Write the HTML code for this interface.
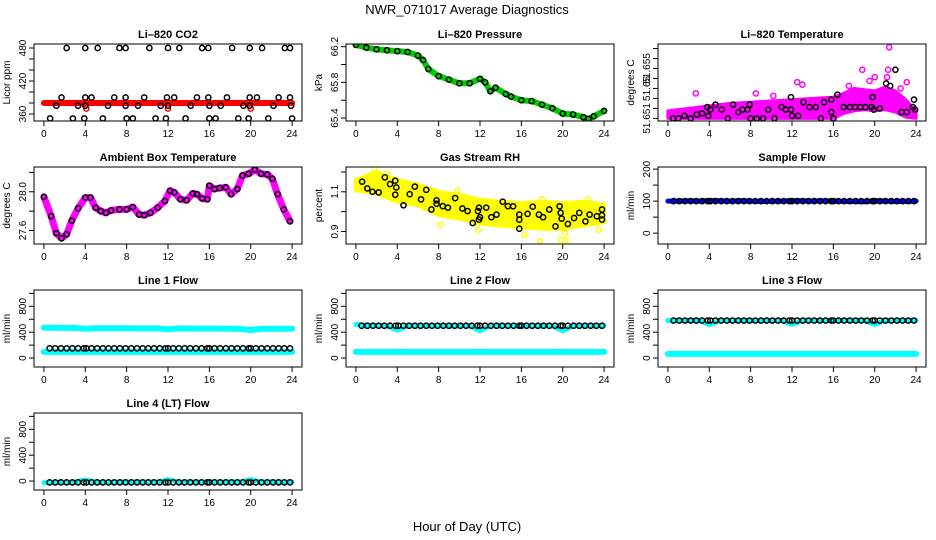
<!DOCTYPE html>
<html><head><meta charset="utf-8">
<style>
html,body{margin:0;padding:0;background:#fff;}
svg{display:block;font-family:"Liberation Sans",Arial,sans-serif;}
</style></head>
<body>
<svg id="chart" width="936" height="540" viewBox="0 0 936 540" xmlns="http://www.w3.org/2000/svg">
<text x="467" y="14" font-size="13" text-anchor="middle">NWR_071017  Average Diagnostics</text>
<text x="467" y="531" font-size="13" text-anchor="middle">Hour of Day (UTC)</text>
</svg>
<script>
// ---------- shared data ----------
const xTicks = [0,4,8,12,16,20,24];
const blkHours = [0.55,1.1,1.65,2.2,2.75,3.3,3.85,4.1,4.6,5.15,5.7,6.25,6.8,7.35,7.9,8.45,9.0,9.55,10.1,10.65,11.2,11.75,12.0,12.5,13.05,13.6,14.15,14.7,15.25,15.8,16.0,16.5,17.05,17.6,18.15,18.7,19.25,19.8,20.0,20.5,21.05,21.6,22.15,22.7,23.25,23.8];
const bandHours = [0,1,2,3,4,5,6,7,8,9,10,11,12,13,14,15,16,17,18,19,20,21,22,23,24];

// CO2
const co2RedValues = [380,380,380,380,380,380,380,380,380,380,380,380,380,380,380,380,380,380,380,380,380,380,380,380,380];
const co2RedOutHours = [4.1,12.0,20.0];
const co2RedOutValues = [370,370,370];
const co2BlackHours = [2.2,4.0,5.2,7.3,7.9,10.2,12.0,13.1,15.3,15.9,18.2,19.9,21.1,23.3,23.8,
 1.7,4.0,4.6,6.8,7.9,9.7,11.9,12.6,14.8,15.9,17.7,19.9,20.6,22.7,23.8,
 1.2,3.3,4.0,6.2,7.9,9.1,11.3,12.0,14.2,16.0,17.1,19.3,19.9,22.2,23.9,
 0.6,2.8,3.9,5.7,8.0,8.6,10.8,11.8,13.7,16.0,16.6,18.8,19.8,21.7,24.0];
const co2BlackValues = [480,480,480,480,480,480,480,480,480,480,480,480,480,480,480,
 390,390,390,390,390,390,390,390,390,390,390,390,390,390,390,
 375,375,375,375,375,375,375,375,375,375,375,375,375,375,375,
 352,352,352,352,352,352,352,352,352,352,352,352,352,352,352];

// Pressure
const presHours = [0,1,2,3,4,5,6,6.5,7,8,9,10,11,12,12.5,13,13.5,14.5,15,16,17,18,19,20,21,22,22.5,23,24];
const presValues = [66.22,66.19,66.17,66.16,66.15,66.14,66.1,66.05,65.95,65.87,65.83,65.79,65.79,65.84,65.8,65.7,65.74,65.67,65.64,65.6,65.59,65.55,65.51,65.45,65.44,65.41,65.39,65.42,65.48];

// Li-820 temperature
const ltHours = [0,2,4,6,8,10,12,14,16,17,18,19,20,21,22,23,24];
const ltUpper = [51.6516,51.6518,51.6520,51.6522,51.6523,51.6524,51.6525,51.6526,51.6527,51.6530,51.6534,51.6533,51.6532,51.6535,51.6532,51.6525,51.6516];
const ltLower = [51.6510,51.6510,51.6510,51.6510,51.6510,51.6510,51.6510,51.6510,51.6510,51.6514,51.6516,51.6517,51.6516,51.6517,51.6515,51.6511,51.6510];
const ltOutHours = [2.7,8.5,12.5,13.0,18.8,20.0,21.4,21.3,21.2,22.5,23.1,17.5,19.5,10.2];
const ltOutValues = [51.6530,51.6530,51.6539,51.6537,51.6549,51.6543,51.6567,51.6549,51.6543,51.6534,51.6539,51.6536,51.6540,51.6528];
const ltBlackHours = [0.5,1.0,1.6,2.2,2.8,3.3,3.8,3.9,4.1,4.6,5.2,5.8,6.3,6.8,7.2,7.7,7.9,8.0,8.6,9.2,9.7,10.3,11.0,11.4,11.9,11.9,12.0,12.6,13.1,13.7,14.3,14.8,15.1,15.8,15.8,16.0,16.4,17.0,17.6,18.1,18.6,19.1,19.7,19.8,19.9,20.5,21.1,21.5,22.0,22.6,23.1,23.7,23.9,23.8];
const ltBlackValues = [51.6510,51.6510,51.6512,51.6510,51.6513,51.6514,51.6519,51.6512,51.6517,51.6521,51.6517,51.6510,51.6521,51.6515,51.6517,51.6517,51.6521,51.6510,51.6510,51.6510,51.6517,51.6510,51.6519,51.6517,51.6527,51.6517,51.6512,51.6512,51.6523,51.6519,51.6519,51.6510,51.6523,51.6525,51.6515,51.6510,51.6529,51.6519,51.6519,51.6519,51.6519,51.6519,51.6519,51.6527,51.6517,51.6518,51.6538,51.6536,51.6549,51.6515,51.6515,51.6519,51.6517,51.6525];

// Ambient box temperature
const ambHours = [0,0.7,1.2,1.7,2.2,2.7,3.3,4.0,4.5,5.0,5.5,6.0,6.5,7.3,8.0,8.6,9.2,9.7,10.3,11.0,11.7,12.2,12.6,13.2,13.8,14.4,14.8,15.3,15.8,16.0,16.5,17.0,17.6,18.1,18.7,19.2,19.8,20.4,21.0,21.6,22.1,22.6,23.2,23.8];
const ambValues = [27.947,27.747,27.572,27.519,27.561,27.702,27.828,27.940,27.940,27.835,27.800,27.782,27.807,27.818,27.818,27.842,27.765,27.758,27.782,27.835,27.905,28.011,27.993,27.923,27.912,27.982,27.975,27.930,27.923,28.063,28.028,28.039,28.046,27.975,28.028,28.168,28.186,28.228,28.186,28.179,28.133,27.975,27.818,27.695];

// Gas stream RH
const rhHours = [0,2,4,6,8,10,12,14,16,18,20,22,24];
const rhUpper = [1.160,1.200,1.160,1.135,1.100,1.085,1.060,1.050,1.042,1.050,1.042,1.050,1.035];
const rhLower = [1.108,1.092,1.050,1.032,0.982,0.965,0.940,0.930,0.922,0.914,0.914,0.930,0.947];
const rhOutHours = [8.2,11.8,16.3,17.8,19.8,20.3,20.2,23.5,18.0,22.4,9.8,1.8,3.0];
const rhOutValues = [0.934,0.909,0.883,0.852,0.857,0.857,0.892,0.909,1.062,1.062,1.105,1.215,1.190];
const rhBlackHours = [0.6,1.1,1.6,2.2,2.8,3.3,3.8,3.9,3.8,4.6,5.2,5.7,6.3,6.8,7.3,7.8,7.8,8.4,8.9,9.6,10.3,10.8,11.3,11.8,11.9,12.0,11.9,12.6,13.1,13.6,14.2,14.7,15.2,15.8,15.8,15.8,16.6,17.1,17.7,18.1,18.7,19.3,19.7,19.8,19.9,20.5,21.1,21.6,22.2,22.6,23.3,23.8,23.8,23.8];
const rhBlackValues = [1.151,1.117,1.100,1.097,1.173,1.139,1.156,1.122,1.085,1.032,1.088,1.126,1.062,1.110,1.011,1.057,1.040,1.028,1.020,1.068,1.016,1.003,0.943,1.003,1.020,0.972,0.960,1.020,0.972,0.985,1.050,1.028,1.027,0.985,0.960,0.914,0.989,1.025,0.985,0.972,1.011,0.926,1.027,0.994,0.965,0.938,0.968,0.994,0.951,0.985,0.977,0.982,1.011,0.960];

// Flows
const sampleBlue = [100,100,101,100,102,101,100,101,100,99,100,100,101,101,100,101,100,99,99,98,101,100,99,99,100];
const sampleBlackLevel = 100;
const line1High = [470,468,466,465,452,462,460,460,460,458,458,458,445,458,457,456,455,455,454,453,432,452,452,452,452];
const line1Low = [95,95,95,95,95,95,95,95,95,95,95,95,95,95,95,95,95,95,95,95,95,95,95,95,95];
const line1BlackLevel = 150;
const line2High = [520,510,505,500,430,500,500,500,500,500,500,500,420,500,500,500,500,500,500,500,420,500,500,500,500];
const line2Low = [95,95,95,95,98,95,95,95,95,95,95,95,98,95,95,95,95,95,95,95,98,95,95,95,95];
const line2BlackLevel = 500;
const line3High = [580,580,580,580,520,580,580,580,580,580,580,580,520,580,580,580,580,580,580,580,520,580,580,580,580];
const line3Low = [65,65,65,65,65,65,65,65,65,65,65,65,65,65,65,65,65,65,65,65,65,65,65,65,65];
const line3BlackLevel = 580;
const line4Cyan = [-25,-22,-20,-18,20,-18,-18,-18,-15,-15,-15,-15,25,-15,-15,-15,-15,-15,-15,-15,25,-15,-15,-15,-15];
const line4BlackLevel = -20;

// ---------- drawing ----------
const NS = "http://www.w3.org/2000/svg";
const svg = document.getElementById('chart');
const colLeft = [34, 346, 658];
const rowTop = [44, 167, 290, 413];
const W = 268, H = 77;

function mk(tag, attrs, parent) {
  const e = document.createElementNS(NS, tag);
  for (const k in attrs) e.setAttribute(k, attrs[k]);
  (parent || svg).appendChild(e);
  return e;
}

function panel(name, col, row, title, ytitle, ymin, ymax, yticks, ylabels) {
  const L = colLeft[col], T = rowTop[row];
  const g = mk('g', {});
  
  
  const xs = v => L + (v + 0.96) / 25.92 * W;
  const ys = v => T + H - (v - ymin) / (ymax - ymin) * H;
  const clipId = 'clip-' + name;
  const cp = mk('clipPath', {id: clipId}, g);
  mk('rect', {x: L, y: T, width: W, height: H}, cp);
  const marks = mk('g', {'clip-path': 'url(#' + clipId + ')'}, g);
  
  
  const box = mk('rect', {x: L, y: T, width: W, height: H, fill: 'none', stroke: '#000', 'stroke-width': 1}, g);
  
  
  const t = mk('text', {x: L + W / 2, y: T - 6, 'font-size': 11, 'font-weight': 'bold', 'text-anchor': 'middle'}, g);
  
  
  t.textContent = title;
  const yt = mk('text', {x: 0, y: 0, 'font-size': 10, 'text-anchor': 'middle', transform: 'translate(' + (L - 24) + ',' + (T + H / 2) + ') rotate(-90)'}, g);
  
  
  yt.textContent = ytitle;
  const xa = mk('g', {}, g);
  
  
  mk('line', {x1: xs(xTicks[0]), x2: xs(xTicks[xTicks.length - 1]), y1: T + H, y2: T + H, stroke: '#000'}, xa);
  xTicks.forEach(v => {
    mk('line', {x1: xs(v), x2: xs(v), y1: T + H, y2: T + H + 5, stroke: '#000'}, xa);
    const tl = mk('text', {x: xs(v), y: T + H + 16, 'font-size': 10, 'text-anchor': 'middle'}, xa);
    
    
    tl.textContent = v;
  });
  const ya = mk('g', {}, g);
  
  
  mk('line', {x1: L, x2: L, y1: ys(yticks[0]), y2: ys(yticks[yticks.length - 1]), stroke: '#000'}, ya);
  yticks.forEach((v, i) => {
    mk('line', {x1: L - 5, x2: L, y1: ys(v), y2: ys(v), stroke: '#000'}, ya);
    if (ylabels[i] !== '') {
      const tl = mk('text', {x: 0, y: 0, 'font-size': 10, 'text-anchor': 'middle', transform: 'translate(' + (L - 8) + ',' + ys(v) + ') rotate(-90)'}, ya);
      
      
      tl.textContent = ylabels[i];
    }
  });
  return {xs, ys, g: marks};
}

function pts(p, hours, vals, color, name, r, sw) {
  hours.forEach((h, i) => {
    const c = mk('circle', {cx: p.xs(h), cy: p.ys(vals[i]), r: r || 2.6, fill: 'none', stroke: color, 'stroke-width': sw || 1.5}, p.g);
    
    
  });
}
function ptsLevel(p, hours, level, color, name) {
  hours.forEach(h => {
    const c = mk('circle', {cx: p.xs(h), cy: p.ys(level), r: 2.6, fill: 'none', stroke: color, 'stroke-width': 1.5}, p.g);
    
    
  });
}
function thick(p, hours, vals, color, w, name) {
  const d = hours.map((h, i) => p.xs(h).toFixed(1) + ',' + p.ys(vals[i]).toFixed(1)).join(' ');
  const l = mk('polyline', {points: d, fill: 'none', stroke: color, 'stroke-width': w, 'stroke-linejoin': 'round', 'stroke-linecap': 'round'}, p.g);
  
  
}
function band(p, hours, up, lo, color, name, sw) {
  const a = hours.map((h, i) => p.xs(h).toFixed(1) + ',' + p.ys(up[i]).toFixed(1));
  const b = hours.map((h, i) => p.xs(h).toFixed(1) + ',' + p.ys(lo[i]).toFixed(1)).reverse();
  const pg = mk('polygon', {points: a.concat(b).join(' '), fill: color, stroke: color, 'stroke-width': sw, 'stroke-linejoin': 'round'}, p.g);
  
  
}

// 1 CO2
let p = panel('co2', 0, 0, 'Li\u2013820 CO2', 'Licor ppm', 347.3, 487.3, [360,380,400,420,440,460,480], ['360','','','420','','','480']);
thick(p, bandHours, co2RedValues, '#ff0000', 6, 'co2-red-band');
pts(p, co2RedOutHours, co2RedOutValues, '#ff0000', 'co2-red-outlier');
pts(p, co2BlackHours, co2BlackValues, '#000', 'co2-hourly-point');

// 2 Pressure
p = panel('pressure', 1, 0, 'Li\u2013820 Pressure', 'kPa', 65.367, 66.23, [65.4,65.6,65.8,66.0,66.2], ['65.4','','65.8','','66.2']);
thick(p, presHours, presValues, '#00cc00', 6, 'pressure-green-band');
pts(p, presHours, presValues, '#000', 'pressure-hourly-point');

// 3 Li-820 temperature
p = panel('li820-temp', 2, 0, 'Li\u2013820 Temperature', 'degrees C', 51.65079, 51.65696,
  [51.651,51.6518,51.6526,51.6534,51.6542,51.655,51.6558,51.6566], ['51.651','','','51.65','','51.655','','']);
band(p, ltHours, ltUpper, ltLower, '#ff00ff', 'li820-temp-magenta-band', 3);
pts(p, ltOutHours, ltOutValues, '#ff00ff', 'li820-temp-outlier');
pts(p, ltBlackHours, ltBlackValues, '#000', 'li820-temp-hourly-point');

// 4 Ambient
p = panel('ambient-temp', 0, 1, 'Ambient Box Temperature', 'degrees C', 27.460, 28.256, [27.6,27.8,28.0,28.2], ['27.6','','28.0','']);
thick(p, ambHours, ambValues, '#ff00ff', 7, 'ambient-magenta-band');
pts(p, ambHours, ambValues, '#000', 'ambient-hourly-point');

// 5 RH
p = panel('rh', 1, 1, 'Gas Stream RH', 'percent', 0.837, 1.225, [0.9,1.0,1.1,1.2], ['0.9','','1.1','']);
band(p, rhHours, rhUpper, rhLower, '#ffff00', 'rh-yellow-band', 4);
pts(p, rhOutHours, rhOutValues, '#ffff00', 'rh-outlier');
pts(p, rhBlackHours, rhBlackValues, '#000', 'rh-hourly-point');

// 6 Sample flow
p = panel('sample-flow', 2, 1, 'Sample Flow', 'ml/min', -33.8, 206.6, [0,50,100,150,200], ['0','','100','','200']);
thick(p, bandHours, sampleBlue, '#0000ff', 5, 'sample-flow-blue-band');
ptsLevel(p, blkHours, sampleBlackLevel, '#000', 'sample-flow-hourly-point');

const flowTicks = [0,200,400,600,800,1000];
const flowLabels = ['0','','400','','800',''];
// 7 Line 1
p = panel('line1-flow', 0, 2, 'Line 1 Flow', 'ml/min', -138, 1052, flowTicks, flowLabels);
thick(p, bandHours, line1High, '#00ffff', 6, 'line1-high-band');
thick(p, bandHours, line1Low, '#00ffff', 6, 'line1-low-band');
ptsLevel(p, blkHours, line1BlackLevel, '#000', 'line1-hourly-point');

// 8 Line 2
p = panel('line2-flow', 1, 2, 'Line 2 Flow', 'ml/min', -138, 1052, flowTicks, flowLabels);
thick(p, bandHours, line2High, '#00ffff', 5, 'line2-high-band');
thick(p, bandHours, line2Low, '#00ffff', 6, 'line2-low-band');
ptsLevel(p, blkHours, line2BlackLevel, '#000', 'line2-hourly-point');

// 9 Line 3
p = panel('line3-flow', 2, 2, 'Line 3 Flow', 'ml/min', -138, 1052, flowTicks, flowLabels);
thick(p, bandHours, line3High, '#00ffff', 5, 'line3-high-band');
thick(p, bandHours, line3Low, '#00ffff', 6, 'line3-low-band');
ptsLevel(p, blkHours, line3BlackLevel, '#000', 'line3-hourly-point');

// 10 Line 4
p = panel('line4-flow', 0, 3, 'Line 4 (LT) Flow', 'ml/min', -138, 1052, flowTicks, flowLabels);
thick(p, bandHours, line4Cyan, '#00ffff', 5, 'line4-cyan-band');
ptsLevel(p, blkHours, line4BlackLevel, '#000', 'line4-hourly-point');
</script>
</body></html>
